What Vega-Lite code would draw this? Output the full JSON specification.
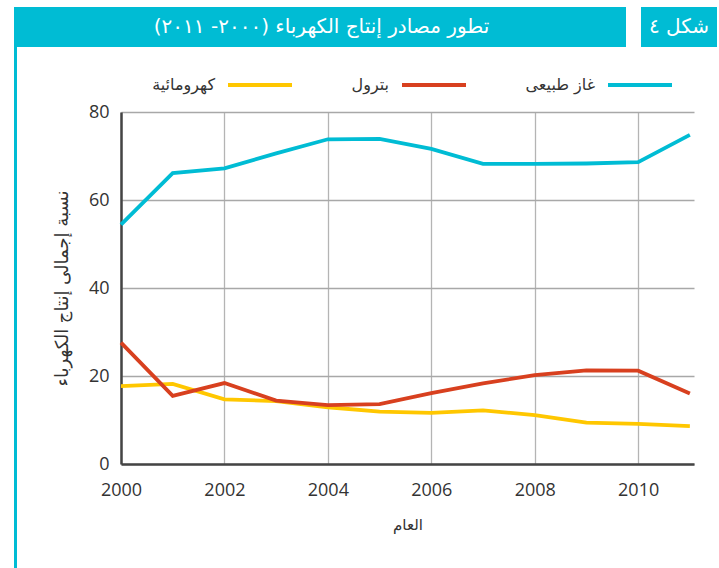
{
  "$schema": "https://vega.github.io/schema/vega-lite/v6.json",
  "padding": {"left": 14, "top": 7, "right": 0, "bottom": 0},
  "background": "white",
  "config": {"view": {"stroke": null}},
  "datasets": {
    "series": [
      {"year": 2000, "source": "كهرومائية", "value": 17.7},
      {"year": 2001, "source": "كهرومائية", "value": 18.2},
      {"year": 2002, "source": "كهرومائية", "value": 14.7},
      {"year": 2003, "source": "كهرومائية", "value": 14.3},
      {"year": 2004, "source": "كهرومائية", "value": 12.9},
      {"year": 2005, "source": "كهرومائية", "value": 11.9},
      {"year": 2006, "source": "كهرومائية", "value": 11.6},
      {"year": 2007, "source": "كهرومائية", "value": 12.2},
      {"year": 2008, "source": "كهرومائية", "value": 11.1},
      {"year": 2009, "source": "كهرومائية", "value": 9.4},
      {"year": 2010, "source": "كهرومائية", "value": 9.1},
      {"year": 2011, "source": "كهرومائية", "value": 8.6},
      {"year": 2000, "source": "بترول", "value": 27.6},
      {"year": 2001, "source": "بترول", "value": 15.5},
      {"year": 2002, "source": "بترول", "value": 18.4},
      {"year": 2003, "source": "بترول", "value": 14.4},
      {"year": 2004, "source": "بترول", "value": 13.4},
      {"year": 2005, "source": "بترول", "value": 13.6},
      {"year": 2006, "source": "بترول", "value": 16.1},
      {"year": 2007, "source": "بترول", "value": 18.3},
      {"year": 2008, "source": "بترول", "value": 20.2},
      {"year": 2009, "source": "بترول", "value": 21.3},
      {"year": 2010, "source": "بترول", "value": 21.2},
      {"year": 2011, "source": "بترول", "value": 16.0},
      {"year": 2000, "source": "غاز طبيعى", "value": 54.4},
      {"year": 2001, "source": "غاز طبيعى", "value": 66.1},
      {"year": 2002, "source": "غاز طبيعى", "value": 67.2},
      {"year": 2003, "source": "غاز طبيعى", "value": 70.6},
      {"year": 2004, "source": "غاز طبيعى", "value": 73.8},
      {"year": 2005, "source": "غاز طبيعى", "value": 73.9},
      {"year": 2006, "source": "غاز طبيعى", "value": 71.6},
      {"year": 2007, "source": "غاز طبيعى", "value": 68.2},
      {"year": 2008, "source": "غاز طبيعى", "value": 68.2},
      {"year": 2009, "source": "غاز طبيعى", "value": 68.3},
      {"year": 2010, "source": "غاز طبيعى", "value": 68.6},
      {"year": 2011, "source": "غاز طبيعى", "value": 74.8}
    ],
    "header": [{"label": "\u200fتطور مصادر إنتاج الكهرباء (٢٠٠٠- ٢٠١١)\u200f"}],
    "fig": [{"label": "\u200fشكل ٤\u200f"}],
    "blank": [{"label": ""}]
  },
  "spacing": 0,
  "hconcat": [
    {
      "width": 3,
      "height": 561,
      "view": {"fill": "#00bcd4", "stroke": null},
      "data": {"name": "blank"},
      "mark": {"type": "text"},
      "encoding": {"text": {"field": "label"}}
    },
    {
      "spacing": 56,
      "vconcat": [
        {
          "spacing": 15,
          "hconcat": [
            {
              "width": 609,
              "height": 40,
              "view": {"fill": "#00bcd4", "stroke": null},
              "data": {"name": "header"},
              "mark": {"type": "text", "color": "white", "fontSize": 20, "font": "DejaVu Sans"},
              "encoding": {"text": {"field": "label"}}
            },
            {
              "width": 76,
              "height": 40,
              "view": {"fill": "#00bcd4", "stroke": null},
              "data": {"name": "fig"},
              "mark": {"type": "text", "color": "white", "fontSize": 20, "font": "DejaVu Sans"},
              "encoding": {"text": {"field": "label"}}
            }
          ]
        },
        {
          "spacing": 35,
          "hconcat": [
            {
              "width": 1,
              "height": 10,
              "data": {"name": "blank"},
              "mark": {"type": "text"},
              "encoding": {"text": {"field": "label"}}
            },
            {
              "width": 573,
              "height": 352,
              "data": {"name": "series"},
              "mark": {"type": "line", "strokeWidth": 3.8},
              "encoding": {
                "x": {
                  "field": "year",
                  "type": "quantitative",
                  "scale": {"domain": [2000, 2011.08], "nice": false, "zero": false},
                  "axis": {
                    "values": [2000, 2002, 2004, 2006, 2008, 2010],
                    "format": "d",
                    "title": "العام",
                    "labelFontSize": 18,
                    "labelFont": "Open Sans",
                    "labelColor": "#333333",
                    "labelFlush": false,
                    "ticks": false,
                    "labelPadding": 17,
                    "domainColor": "#444444",
                    "domainWidth": 2.5,
                    "gridColor": "#b4b4b4",
                    "gridWidth": 1.3,
                    "titleFont": "DejaVu Sans",
                    "titleFontSize": 15,
                    "titleFontWeight": "normal",
                    "titleColor": "#333333",
                    "titlePadding": 18
                  }
                },
                "y": {
                  "field": "value",
                  "type": "quantitative",
                  "scale": {"domain": [0, 80], "nice": false},
                  "axis": {
                    "values": [0, 20, 40, 60, 80],
                    "title": "نسبة إجمالى إنتاج الكهرباء",
                    "labelFontSize": 18,
                    "labelFont": "Open Sans",
                    "labelColor": "#333333",
                    "ticks": false,
                    "labelPadding": 12,
                    "domainColor": "#444444",
                    "domainWidth": 2.5,
                    "gridColor": "#a8a8a8",
                    "gridWidth": 1.3,
                    "titleFont": "DejaVu Sans",
                    "titleFontSize": 18,
                    "titleFontWeight": "normal",
                    "titleColor": "#333333",
                    "titlePadding": 17
                  }
                },
                "color": {
                  "field": "source",
                  "type": "nominal",
                  "scale": {
                    "domain": ["كهرومائية", "بترول", "غاز طبيعى"],
                    "range": ["#ffc700", "#d8401f", "#00bcd4"]
                  },
                  "legend": {
                    "orient": "none",
                    "legendX": 212,
                    "legendY": 44,
                    "direction": "horizontal",
                    "title": null,
                    "symbolType": "stroke",
                    "symbolSize": 4096,
                    "symbolStrokeWidth": 4,
                    "labelFontSize": 16,
                    "labelFont": "DejaVu Sans",
                    "labelColor": "#333333",
                    "labelAlign": "right",
                    "labelOffset": -79,
                    "columnPadding": 51
                  }
                }
              }
            }
          ]
        }
      ]
    }
  ]
}
